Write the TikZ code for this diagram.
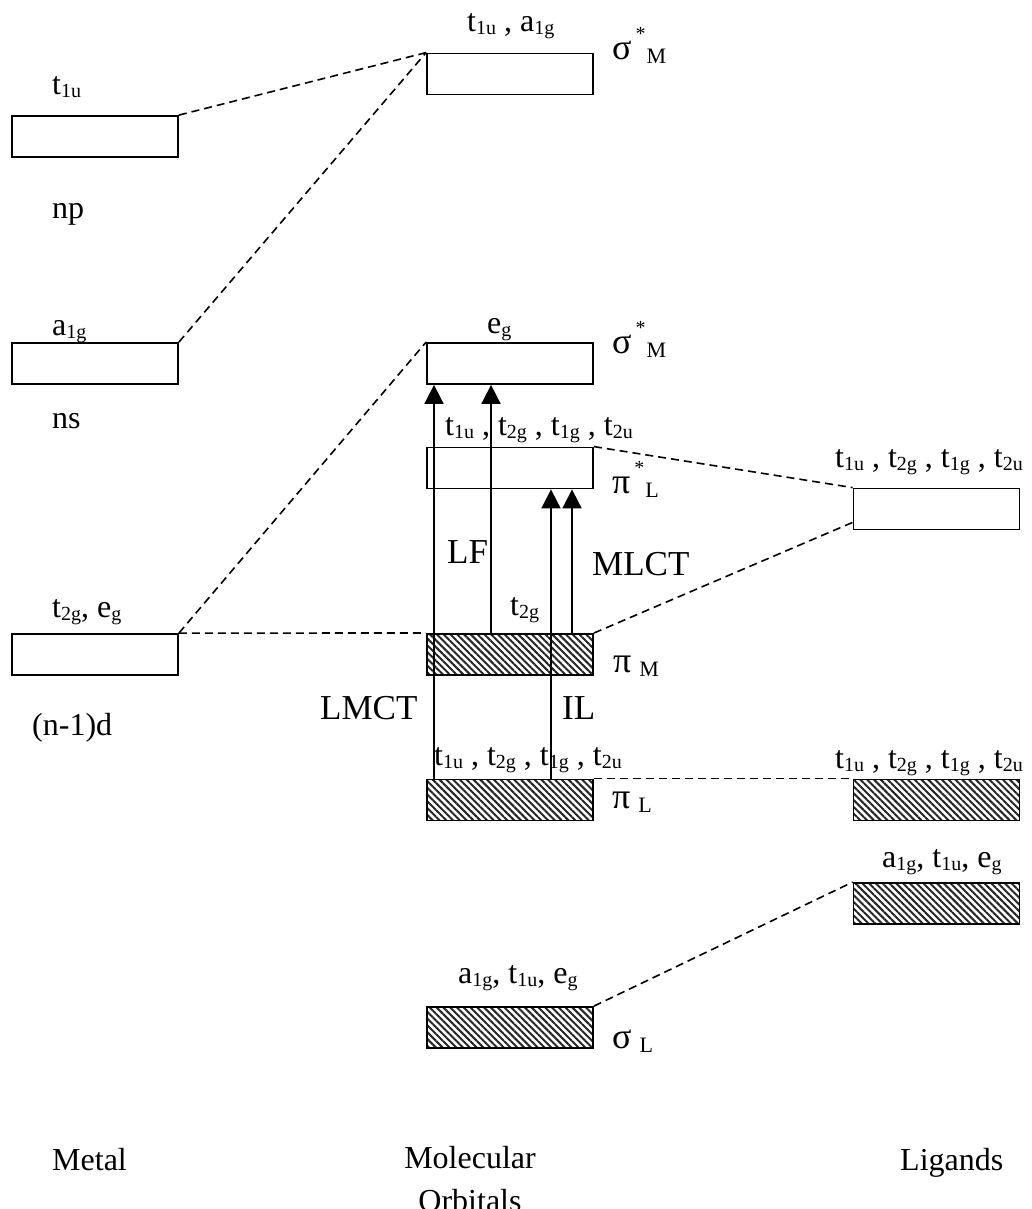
\documentclass[tikz,border=0pt]{standalone}
\usepackage{fontspec}
\setmainfont{Liberation Serif}
\usetikzlibrary{arrows.meta,patterns.meta}
\newcommand{\lo}[1]{\raisebox{-3pt}{\fontsize{20}{20}\selectfont #1}}
\newcommand{\gstar}[2]{{\fontsize{36}{36}\selectfont #1}\kern4pt\raisebox{19pt}{\fontsize{20}{20}\selectfont *}\kern1pt\raisebox{-4pt}{\fontsize{22}{22}\selectfont #2}}
\newcommand{\gplain}[2]{{\fontsize{36}{36}\selectfont #1}\kern8pt\raisebox{-4pt}{\fontsize{22}{22}\selectfont #2}}
\tikzset{
  obox/.style={draw=black, line width=1.8pt, inner sep=0pt, minimum width=166pt, minimum height=41pt},
  hbox/.style={obox, pattern={Lines[angle=-45,distance=4.8pt,line width=2pt]}, pattern color=black!85},
  conn/.style={draw=black, line width=1.6pt, dash pattern=on 8pt off 5pt},
  arr/.style={draw=black, line width=1.8pt, -{Triangle[width=19pt,length=19pt]}},
  lbl/.style={anchor=base west, inner sep=0pt, font=\fontsize{32}{36}\selectfont},
  big/.style={anchor=base west, inner sep=0pt, font=\fontsize{35}{40}\selectfont},
}
\begin{document}
\begin{tikzpicture}[x=1pt,y=-1pt]
\fill[white] (0,0) rectangle (1031,1209);
\clip (0,0) rectangle (1031,1209);
% boxes
\node[obox] (M1) at (95,136.5) {};
\node[obox] (M2) at (95,363.5) {};
\node[obox] (M3) at (95,654.5) {};
\node[obox] (C1) at (510,74) {};
\node[obox] (C2) at (510,363.5) {};
\node[obox] (C3) at (510,468) {};
\node[hbox] (C4) at (510,654.5) {};
\node[hbox] (C5) at (510,800) {};
\node[hbox] (C6) at (510,1027.5) {};
\node[obox] (L1) at (936.5,509) {};
\node[hbox] (L2) at (936.5,800) {};
\node[hbox] (L3) at (936.5,903.5) {};
% connectors
\draw[conn] (M1.north east) -- (C1.north west);
\draw[conn] (M2.north east) -- (C1.north west);
\draw[conn] (M3.north east) -- (C2.north west);
\draw[conn] (M3.north east) -- (C4.north west);
\draw[conn] (C3.north east) -- (L1.north west);
\draw[conn] (C4.north east) -- ([yshift=8pt]L1.south west);
\draw[conn] (C5.north east) -- (L2.north west);
\draw[conn] (C6.north east) -- (L3.north west);
% arrows
\draw[arr] ([xshift=-76pt]C5.north) -- ([xshift=-76pt]C2.south);
\draw[arr] ([xshift=-19pt]C4.north) -- ([xshift=-19pt]C2.south);
\draw[arr] ([xshift=41pt]C5.north) -- ([xshift=41pt]C3.south);
\draw[arr] ([xshift=62pt]C4.north) -- ([xshift=62pt]C3.south);
% metal labels
\node[lbl] (tm1) at (52,95) {t\lo{1u}};
\node[lbl] (np) at (52,218) {np};
\node[lbl] (tm2) at (52,335) {a\lo{1g}};
\node[lbl] (ns) at (52,428) {ns};
\node[lbl] (tm3) at (52,617) {t\lo{2g}, e\lo{g}};
\node[lbl] (nd) at (32,735) {(n-1)d};
% MO labels
\node[lbl] (tc1) at (467,32) {t\lo{1u} , a\lo{1g}};
\node[lbl] (tc2) at (487,333) {e\lo{g}};
\node[lbl] (tc3) at (445,435) {t\lo{1u} , t\lo{2g} , t\lo{1g} , t\lo{2u}};
\node[lbl] (tc4) at (510,615) {t\lo{2g}};
\node[lbl] (tc5) at (434,765) {t\lo{1u} , t\lo{2g} , t\lo{1g} , t\lo{2u}};
\node[lbl] (tc6) at (458,983) {a\lo{1g}, t\lo{1u}, e\lo{g}};
% ligand labels
\node[lbl] (tl1) at (835,467) {t\lo{1u} , t\lo{2g} , t\lo{1g} , t\lo{2u}};
\node[lbl] (tl2) at (835,768) {t\lo{1u} , t\lo{2g} , t\lo{1g} , t\lo{2u}};
\node[lbl] (tl3) at (882,867) {a\lo{1g}, t\lo{1u}, e\lo{g}};
% transitions
\node[big] (lf) at (447,563) {LF};
\node[big] (mlct) at (592,575) {MLCT};
\node[big] (lmct) at (320,719) {LMCT};
\node[big] (il) at (562,719) {IL};
% greek
\node[lbl] (g1) at (612,60) {\gstar{σ}{M}};
\node[lbl] (g2) at (612,353) {\gstar{σ}{M}};
\node[lbl] (g3) at (612,493) {\gstar{π}{L}};
\node[lbl] (g4) at (613,672) {\gplain{π}{M}};
\node[lbl] (g5) at (612,808) {\gplain{π}{L}};
\node[lbl] (g6) at (612,1048) {\gplain{σ}{L}};
% bottom
\node[lbl] (metal) at (52,1170) {Metal};
\node[anchor=north, inner sep=0pt, align=center, font=\fontsize{32}{43}\selectfont] (mo) at (470,1146) {Molecular\\Orbitals};
\node[lbl] (lig) at (900,1170) {Ligands};
\end{tikzpicture}
\end{document}
